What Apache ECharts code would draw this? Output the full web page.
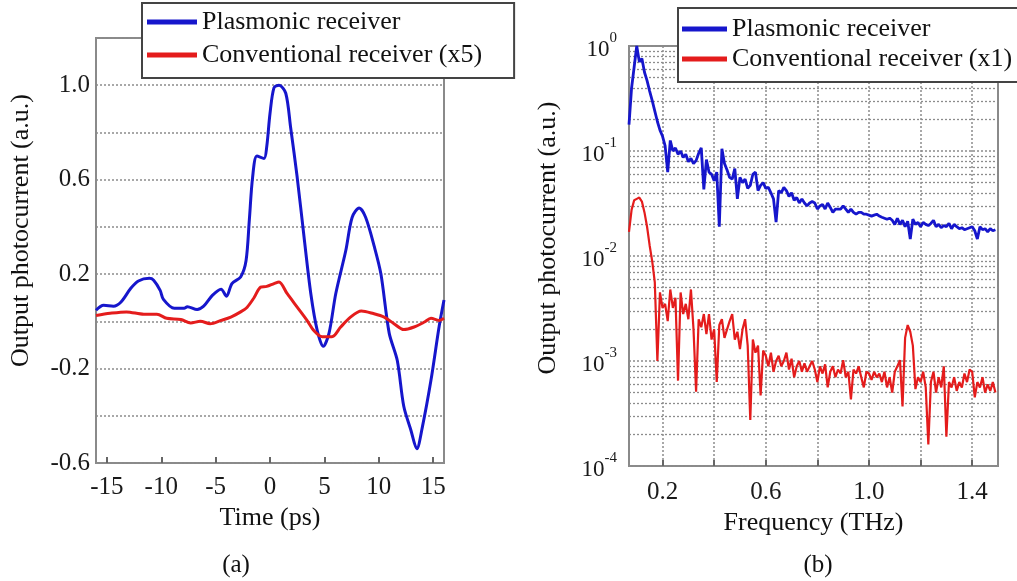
<!DOCTYPE html>
<html><head><meta charset="utf-8">
<script src="https://cdn.jsdelivr.net/npm/echarts@6.0.0/dist/echarts.min.js"></script>
<style>html,body{margin:0;padding:0;background:#fff}#c{width:1017px;height:581px}</style>
</head><body><div id="c"></div>
<script>
const FONT = '"Liberation Serif","Times New Roman",serif';

// Panel (a): time domain
const timeBlueA = [-16.0,-15.3,-14.4,-13.7,-12.8,-12.1,-11.1,-10.7,-10.1,-9.8,-8.8,-7.9,-7.6,-6.7,-6.1,-5.3,-4.5,-4.0,-3.5,-2.7,-2.2,-1.9,-1.6,-1.2,-0.55,-0.3,0.0,0.37,0.83,1.45,1.9,2.5,3.13,3.75,4.35,4.9,5.43,6.05,6.97,7.55,8.2,8.8,9.6,10.2,10.96,11.7,12.3,12.95,13.5,14.0,14.8,15.56,16.0];
const plasmonicA = [0.047,0.068,0.064,0.082,0.14,0.171,0.182,0.174,0.131,0.093,0.055,0.055,0.062,0.05,0.064,0.11,0.136,0.106,0.16,0.188,0.258,0.43,0.61,0.70,0.69,0.74,0.88,0.99,1.0,0.966,0.82,0.61,0.357,0.118,-0.04,-0.106,-0.05,0.118,0.30,0.44,0.48,0.44,0.315,0.20,-0.05,-0.165,-0.36,-0.46,-0.54,-0.45,-0.25,-0.02,0.09];
const timeRedA = [-16,-14.7,-13.2,-11.6,-10.4,-9.5,-8.2,-7.3,-6.4,-5.5,-4.5,-3.6,-2.7,-2.1,-1.47,-0.86,-0.3,0.37,0.83,1.57,2.5,3.4,4.05,4.8,5.7,6.5,7.4,8.4,9.5,10.5,11.4,12.3,13.25,14.2,14.8,15.56,16.0];
const conventionalA = [0.025,0.034,0.04,0.03,0.03,0.013,0.008,-0.007,0.0,-0.01,0.004,0.018,0.04,0.06,0.10,0.145,0.148,0.16,0.167,0.118,0.06,0.004,-0.04,-0.065,-0.065,-0.024,0.018,0.044,0.033,0.018,-0.01,-0.035,-0.024,-0.003,0.013,0.004,0.013];
const timeTicksA = [-15,-10,-5,0,5,10,15];
const valueLabelsA = [-0.6,-0.2,0.2,0.6,1.0];

// Panel (b): spectrum
const freqB = [
0.07,0.08,0.09,0.10,0.11,0.12,0.13,0.14,0.15,0.16,
0.17,0.18,0.19,0.20,0.21,0.22,0.23,0.24,0.25,0.26,
0.27,0.28,0.29,0.30,0.31,0.32,0.33,0.34,0.35,0.36,
0.37,0.38,0.39,0.40,0.41,0.42,0.43,0.44,0.45,0.46,
0.47,0.48,0.49,0.50,0.51,0.52,0.53,0.54,0.55,0.56,
0.57,0.58,0.59,0.60,0.61,0.62,0.63,0.64,0.65,0.66,
0.67,0.68,0.69,0.70,0.71,0.72,0.73,0.74,0.75,0.76,
0.77,0.78,0.79,0.80,0.81,0.82,0.83,0.84,0.85,0.86,
0.87,0.88,0.89,0.90,0.91,0.92,0.93,0.94,0.95,0.96,
0.97,0.98,0.99,1.00,1.01,1.02,1.03,1.04,1.05,1.06,
1.07,1.08,1.09,1.10,1.11,1.12,1.13,1.14,1.15,1.16,
1.17,1.18,1.19,1.20,1.21,1.22,1.23,1.24,1.25,1.26,
1.27,1.28,1.29,1.30,1.31,1.32,1.33,1.34,1.35,1.36,
1.37,1.38,1.39,1.40,1.41,1.42,1.43,1.44,1.45,1.46,
1.47,1.48,1.49];
const plasmonicB = [
0.178,0.398,0.631,1.0,0.708,0.759,0.562,0.468,0.372,0.302,
0.240,0.191,0.158,0.138,0.112,0.063,0.126,0.100,0.107,0.093,
0.100,0.087,0.093,0.079,0.085,0.076,0.081,0.095,0.107,0.043,
0.083,0.063,0.060,0.052,0.063,0.019,0.105,0.076,0.066,0.056,
0.054,0.068,0.035,0.056,0.050,0.054,0.044,0.047,0.060,0.063,
0.042,0.047,0.050,0.044,0.045,0.040,0.035,0.021,0.042,0.040,
0.045,0.042,0.037,0.040,0.034,0.036,0.032,0.035,0.032,0.030,
0.032,0.033,0.032,0.028,0.030,0.031,0.028,0.032,0.029,0.026,
0.028,0.028,0.028,0.030,0.028,0.026,0.028,0.026,0.025,0.026,
0.026,0.025,0.025,0.0245,0.024,0.0245,0.025,0.024,0.0234,0.0229,
0.0224,0.0229,0.0219,0.020,0.0229,0.020,0.0219,0.019,0.0214,0.0145,
0.0224,0.020,0.0209,0.019,0.0209,0.020,0.0195,0.0204,0.0219,0.019,
0.020,0.0186,0.0195,0.019,0.0204,0.0182,0.020,0.019,0.0182,0.0186,
0.0178,0.0182,0.0186,0.019,0.0174,0.0145,0.019,0.0178,0.0182,0.017,
0.0182,0.0174,0.0178];
const conventionalB = [
0.017,0.0275,0.034,0.035,0.036,0.033,0.026,0.019,0.0126,0.0089,
0.0056,0.001,0.0045,0.0032,0.0035,0.0024,0.0048,0.0032,0.004,0.00065,
0.0045,0.0028,0.0035,0.0025,0.0048,0.002,0.00051,0.0025,0.0021,0.0028,
0.0018,0.0028,0.0016,0.002,0.00063,0.0022,0.0025,0.00166,0.002,0.0024,
0.0028,0.0016,0.0019,0.0013,0.002,0.0025,0.0014,0.000275,0.0016,0.0012,
0.0014,0.00047,0.00126,0.00112,0.00089,0.0012,0.00079,0.001,0.00112,0.00089,
0.001,0.0012,0.00083,0.00105,0.0007,0.00089,0.001,0.00079,0.00095,0.00079,
0.00089,0.001,0.00083,0.00063,0.00089,0.00076,0.00093,0.00056,0.00079,0.00089,
0.0007,0.00083,0.00076,0.00102,0.0007,0.00079,0.00043,0.00083,0.00076,0.00089,
0.0007,0.00056,0.00079,0.00076,0.00066,0.00079,0.0007,0.00076,0.00063,0.00079,
0.00056,0.0007,0.0005,0.00079,0.00089,0.00102,0.00037,0.00166,0.0022,0.0019,
0.0014,0.00054,0.0007,0.00063,0.00079,0.00056,0.00016,0.00063,0.00079,0.0005,
0.0007,0.00056,0.00089,0.00019,0.00063,0.00056,0.0007,0.00052,0.00063,0.00056,
0.00076,0.00063,0.00083,0.00079,0.00045,0.00063,0.00056,0.0007,0.0005,0.0006,
0.00052,0.00063,0.0005];
const freqGridB = [0.2,0.4,0.6,0.8,1.0,1.2,1.4];
const freqLabelsB = [0.2,0.6,1.0,1.4];
const freqRangeB = [0.07, 1.5];
const seriesNames = ['Plasmonic receiver','Conventional receiver (x5)','Conventional receiver (x1)'];

const minorGridB = [];
for (let e = -4; e < 0; e++) for (let m = 2; m <= 9; m++) minorGridB.push(m * Math.pow(10, e));

const BLUE = '#1616cc', RED = '#e41c1c', FRAME = '#8a8a8a', GRID = '#8c8c8c';
const zip = (xs, ys) => xs.map((x, i) => [x, ys[i]]);
const tickFont = {fontFamily: FONT, fontSize: 25, color: '#1a1a1a'};
const gridLine = {color: GRID, type: [2, 2], width: 1.5};

const chart = echarts.init(document.getElementById('c'));
chart.setOption({
  animation: false,
  grid: [
    {left: 96, right: 573, top: 38, bottom: 118, show: true, borderColor: FRAME, borderWidth: 2, containLabel: false},
    {left: 629, right: 19, top: 46, bottom: 115, show: true, borderColor: FRAME, borderWidth: 2, containLabel: false}
  ],
  legend: [
    {data: [seriesNames[0], seriesNames[1]], orient: 'vertical', left: 142, top: 3,
     padding: [6, 32, 10, 5], itemGap: 7, itemWidth: 50, itemHeight: 5, icon: 'rect',
     borderColor: '#444', borderWidth: 2, backgroundColor: '#fff',
     textStyle: {fontFamily: FONT, fontSize: 26, color: '#111'}, selectedMode: false},
    {data: [seriesNames[0], seriesNames[2]], orient: 'vertical', left: 678, top: 8,
     padding: [8, 20, 10, 4], itemGap: 4, itemWidth: 45, itemHeight: 5, icon: 'rect',
     borderColor: '#444', borderWidth: 2, backgroundColor: '#fff',
     textStyle: {fontFamily: FONT, fontSize: 26, color: '#111'}, selectedMode: false}
  ],
  xAxis: [
    {type: 'value', gridIndex: 0, min: -16, max: 16,
     name: 'Time (ps)', nameLocation: 'middle', nameGap: 42,
     nameTextStyle: {fontFamily: FONT, fontSize: 26, color: '#111'},
     axisLine: {show: false, onZero: false}, splitLine: {show: false},
     axisTick: {show: true, inside: true, length: 6, customValues: timeTicksA, lineStyle: {color: '#666', width: 2}},
     axisLabel: Object.assign({customValues: timeTicksA, margin: 12}, tickFont)},
    {type: 'value', gridIndex: 1, min: freqRangeB[0], max: freqRangeB[1],
     name: 'Frequency (THz)', nameLocation: 'middle', nameGap: 40,
     nameTextStyle: {fontFamily: FONT, fontSize: 26, color: '#111'},
     axisLine: {show: false, onZero: false},
     splitLine: {show: true, lineStyle: gridLine},
     axisTick: {show: true, inside: true, length: 6, customValues: freqGridB, lineStyle: {color: '#666', width: 2}},
     axisLabel: Object.assign({customValues: freqLabelsB, margin: 14, formatter: v => v.toFixed(1)}, tickFont)}
  ],
  yAxis: [
    {type: 'value', gridIndex: 0, min: -0.6, max: 1.2, interval: 0.2,
     name: 'Output photocurrent (a.u.)', nameLocation: 'middle', nameGap: 62,
     nameTextStyle: {fontFamily: FONT, fontSize: 26, color: '#111', padding: [0, 0, 0, 40]},
     axisLine: {show: false, onZero: false}, axisTick: {show: false},
     splitLine: {show: true, lineStyle: gridLine},
     axisLabel: Object.assign({customValues: valueLabelsA, margin: 6, formatter: v => v.toFixed(1)}, tickFont)},
    {type: 'log', logBase: 10, gridIndex: 1, min: 1e-4, max: 1,
     name: 'Output photocurrent (a.u.)', nameLocation: 'middle', nameGap: 68,
     nameTextStyle: {fontFamily: FONT, fontSize: 26, color: '#111', padding: [0, 0, 0, 36]},
     axisLine: {show: false, onZero: false}, axisTick: {show: false},
     splitLine: {show: true, lineStyle: gridLine},
     axisLabel: {margin: 12, color: '#1a1a1a',
       formatter: v => '{b|10}{s|' + Math.round(Math.log10(v)) + '}',
       rich: {b: {fontFamily: FONT, fontSize: 23, lineHeight: 30, verticalAlign: 'bottom', color: '#1a1a1a'},
              s: {fontFamily: FONT, fontSize: 15, lineHeight: 15, verticalAlign: 'top', color: '#1a1a1a'}}}}
  ],
  series: [
    {name: seriesNames[0], type: 'line', xAxisIndex: 0, yAxisIndex: 0, data: zip(timeBlueA, plasmonicA),
     showSymbol: false, smooth: 0.3, z: 3, color: BLUE, lineStyle: {color: BLUE, width: 3}},
    {name: seriesNames[1], type: 'line', xAxisIndex: 0, yAxisIndex: 0, data: zip(timeRedA, conventionalA),
     showSymbol: false, smooth: 0.3, z: 3, color: RED, lineStyle: {color: RED, width: 3}},
    {name: 'minor grid', type: 'lines', coordinateSystem: 'cartesian2d', xAxisIndex: 1, yAxisIndex: 1,
     z: 1, silent: true, polyline: false, effect: {show: false},
     lineStyle: {color: GRID, type: [2, 2], width: 1.3, opacity: 1, curveness: 0},
     data: minorGridB.map(v => ({coords: [[freqRangeB[0], v], [freqRangeB[1], v]]}))},
    {name: seriesNames[0], type: 'line', xAxisIndex: 1, yAxisIndex: 1, data: zip(freqB, plasmonicB),
     showSymbol: false, z: 3, color: BLUE, lineStyle: {color: BLUE, width: 2.8}},
    {name: seriesNames[2], type: 'line', xAxisIndex: 1, yAxisIndex: 1, data: zip(freqB, conventionalB),
     showSymbol: false, z: 3, color: RED, lineStyle: {color: RED, width: 2.2}}
  ],
  graphic: [
    {type: 'text', x: 236, y: 565, style: {text: '(a)', font: '25px ' + FONT, fill: '#111', textAlign: 'center', textVerticalAlign: 'middle'}},
    {type: 'text', x: 818, y: 565, style: {text: '(b)', font: '25px ' + FONT, fill: '#111', textAlign: 'center', textVerticalAlign: 'middle'}}
  ]
});
</script></body></html>
